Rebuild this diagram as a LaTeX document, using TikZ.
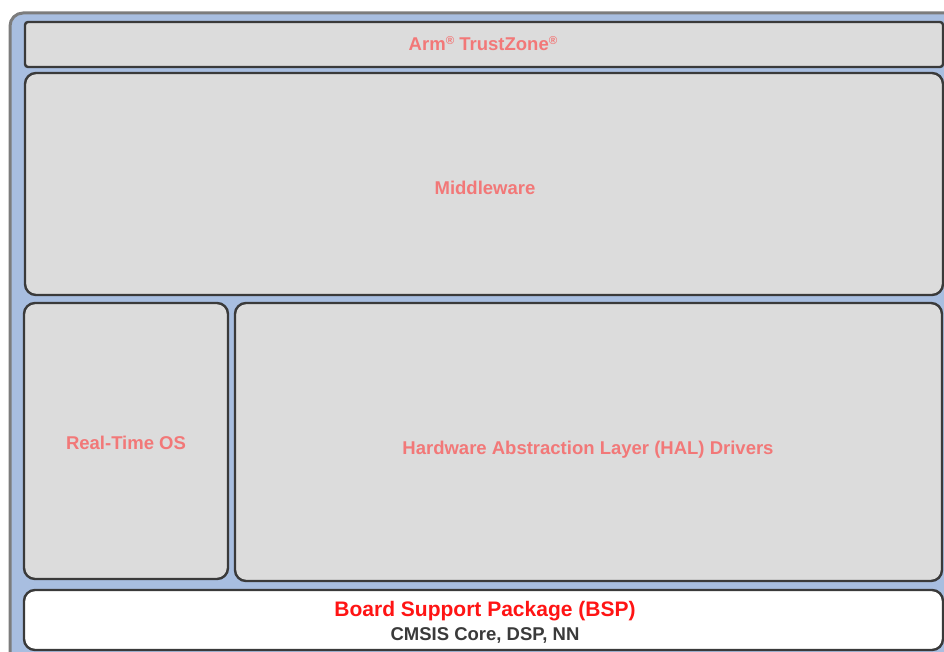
\documentclass[tikz,border=0pt]{standalone}
\usepackage{fontspec}
\setmainfont{Liberation Sans}
\definecolor{frameblue}{HTML}{A8BEE0}
\definecolor{framegray}{HTML}{7C7C7C}
\definecolor{layergray}{HTML}{DCDCDC}
\definecolor{edgegray}{HTML}{3A3A3A}
\definecolor{salmon}{HTML}{F27878}
\definecolor{bspred}{HTML}{FF1414}
\newcommand{\regmark}{\raisebox{0.6ex}{\fontsize{11.5}{11.5}\selectfont\textregistered}}
\begin{document}
\begin{tikzpicture}[x=1pt, y=-1pt,
        layer/.style={draw=edgegray, line width=2.4pt, fill=layergray, rounded corners=11pt},
        lbl/.style={text=salmon, font=\fontsize{18.5}{22}\selectfont\bfseries}]
        \clip (0,0) rectangle (944,652);
        % outer frame
        \draw[draw=framegray, line width=3pt, fill=frameblue, rounded corners=13pt] (10,13) rectangle (975,690);
        % layers
        \draw[layer, rounded corners=3pt] (25,22) rectangle (943,67);
        \draw[layer] (25,73) rectangle (943,295);
        \draw[layer] (24,303) rectangle (228,579);
        \draw[layer] (235,303) rectangle (942,581);
        \draw[layer, fill=white] (24,590) rectangle (943,650);
        % labels
        \node[lbl] (tz) at (483,44) {Arm\regmark{} TrustZone\regmark};
        \node[lbl] (mw) at (485,188) {Middleware};
        \node[lbl] (rtos) at (126,443) {Real-Time OS};
        \node[lbl] (hal) at (588,450) {Hardware Abstraction Layer (HAL) Drivers};
        \node[lbl, text=bspred, font=\fontsize{21}{24}\selectfont\bfseries] (bsp) at (485,611) {Board Support Package (BSP)};
        \node[lbl, text=edgegray, font=\fontsize{18.5}{22}\selectfont\bfseries] (cmsis) at (485,635) {CMSIS Core, DSP, NN};
\end{tikzpicture}
\end{document}
